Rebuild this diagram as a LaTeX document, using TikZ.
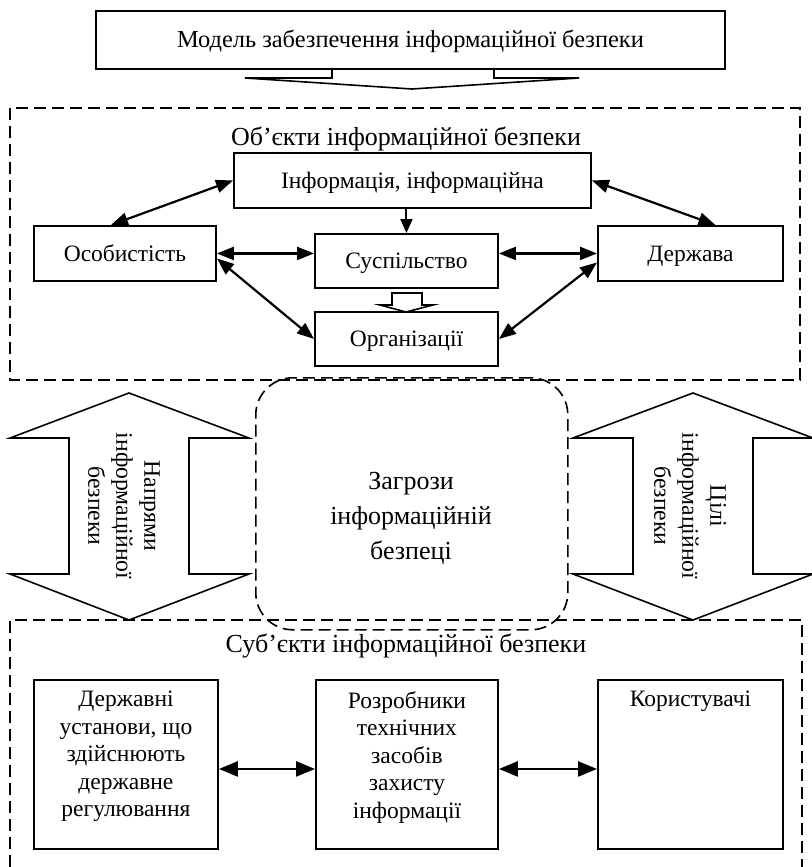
\documentclass[tikz,border=0pt]{standalone}
\usepackage{fontspec}
\setmainfont{Liberation Serif}
\usetikzlibrary{arrows.meta}
\begin{document}
\begin{tikzpicture}[x=1pt,y=-1pt,
  box/.style={draw, line width=1.9pt, inner sep=0pt, anchor=north west,
    text height=16pt, text depth=0pt, font=\fontsize{23.5}{27.5}\selectfont},
  boxtext/.style={inner sep=0pt, anchor=north, align=center,
    font=\fontsize{23.5}{27.5}\selectfont},
  heading/.style={inner sep=0pt, anchor=base, font=\fontsize{26}{30}\selectfont},
  dashbox/.style={line width=1.6pt, dash pattern=on 12pt off 6pt},
  outline/.style={line width=1.6pt, line join=miter},
  link/.style={line width=2.2pt, {Triangle[length=17pt,width=13pt]}-{Triangle[length=17pt,width=13pt]}},
  widelink/.style={line width=2.4pt, {Triangle[length=19pt,width=15pt]}-{Triangle[length=19pt,width=15pt]}},
  onelink/.style={line width=2pt, -{Triangle[length=14pt,width=12pt]}},
  sidetext/.style={inner sep=0pt, rotate=-90, align=center,
    font=\fontsize{23.7}{28}\selectfont}]
\useasboundingbox (0,0) rectangle (811,867);

% model title and its arrow
\node[box, minimum width=629, minimum height=58, font=\fontsize{24.4}{28}\selectfont]
  (model) at (95,10) {Модель забезпечення інформаційної безпеки};
\draw[outline] (332,68) -- (332,78) -- (245,78) -- (412,89) -- (579,78) -- (494,78) -- (494,68);

% objects of information security
\draw[dashbox] (10,108) rectangle (800,380);
\node[heading] (objtitle) at (406,145) {Об’єкти інформаційної безпеки};

\node[box, minimum width=357, minimum height=55] (info) at (233,152) {Інформація, інформаційна};
\node[box, minimum width=182, minimum height=55] (person) at (33,225) {Особистість};
\node[box, minimum width=183, minimum height=54] (society) at (314,233) {Суспільство};
\node[box, minimum width=185, minimum height=55] (state) at (597,225) {Держава};
\node[box, minimum width=183, minimum height=54] (orgs) at (314,311) {Організації};

\draw[link] (info.west) -- ([xshift=-14pt]person.north);
\draw[link] (info.east) -- ([xshift=25pt]state.north);
\draw[onelink] (society.north |- info.south) -- (society.north);
\draw[link] (person.east) -- (person.east -| society.west);
\draw[link] (society.east |- state.west) -- (state.west);
\draw[link] ([yshift=-5pt]person.east) -- (orgs.west);
\draw[link] ([yshift=-9pt]state.west) -- (orgs.east);
\draw[outline] (392,293) -- (392,305) -- (380,305) -- (406,312) -- (433,305) -- (422,305) -- (422,293) -- cycle;

% threats
\node[draw, dashbox, rounded corners=37pt, inner sep=0pt, anchor=north west,
  minimum width=312, minimum height=252] (threats) at (255,377) {};
\node[inner sep=0pt, anchor=north, align=center, font=\fontsize{26}{35}\selectfont]
  (threatstext) at (411,472) {Загрози\\інформаційній\\безпеці};

% two-way arrows at the sides
\draw[outline] (129,393) -- (249,438) -- (189,438) -- (189,574) -- (249,574) -- (129,620)
  -- (10,574) -- (69,574) -- (69,438) -- (10,438) -- cycle;
\node[sidetext] (dirtext) at (124,506) {Напрями\\інформаційної\\безпеки};
\draw[outline] (693,393) -- (813,438) -- (753,438) -- (753,574) -- (813,574) -- (693,620)
  -- (573,574) -- (633,574) -- (633,438) -- (573,438) -- cycle;
\node[sidetext] (goaltext) at (690,506) {Цілі\\інформаційної\\безпеки};

% subjects of information security
\draw[dashbox] (10,867) -- (10,620) -- (802,620) -- (802,867);
\node[heading] (subjtitle) at (406,652) {Суб’єкти інформаційної безпеки};

\node[box, minimum width=184, minimum height=169] (gov) at (33,679) {};
\node[box, minimum width=182, minimum height=169] (dev) at (315,679) {};
\node[box, minimum width=185, minimum height=169] (users) at (597,679) {};
\node[boxtext] (govtext) at ([yshift=-12pt]gov.north) {Державні\\установи, що\\здійснюють\\державне\\регулювання};
\node[boxtext] (devtext) at ([yshift=-12pt]dev.north) {Розробники\\технічних\\засобів\\захисту\\інформації};
\node[boxtext] (usertext) at ([yshift=-12pt]users.north) {Користувачі};

\draw[widelink] ([yshift=-4.5pt]gov.east) -- ([yshift=-4.5pt]dev.west);
\draw[widelink] ([yshift=-4.5pt]dev.east) -- ([yshift=-4.5pt]users.west);
\end{tikzpicture}
\end{document}
